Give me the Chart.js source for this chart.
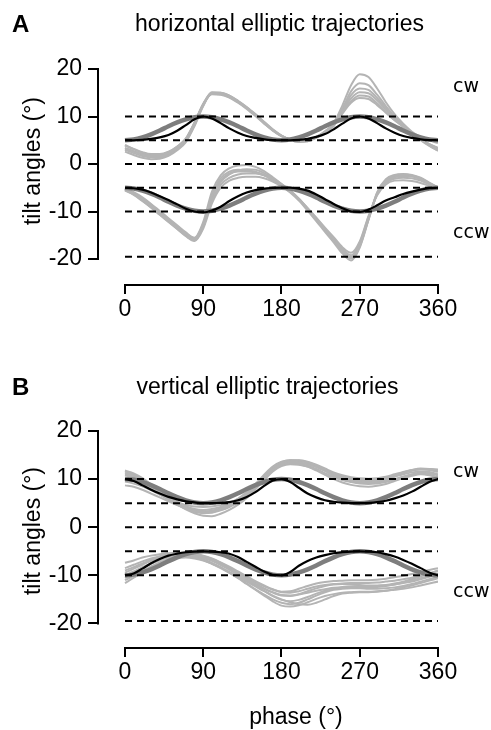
<!DOCTYPE html>
<html><head><meta charset="utf-8">
<script src="https://cdn.jsdelivr.net/npm/chart.js@4.4.1/dist/chart.umd.min.js"></script>
<style>
html,body{margin:0;padding:0;background:#fff;}
#wrap{position:relative;width:491px;height:730px;overflow:hidden;font-family:"Liberation Sans",Arial,sans-serif;color:#000;background:#fff;}
canvas{position:absolute;left:0;top:0;}
.t{position:absolute;white-space:nowrap;line-height:1;}
.lab{font-family:"DejaVu Sans",sans-serif;font-size:19px;left:453px;}
.yt{font-size:23px;transform:translate(-50%,-50%) rotate(-90deg);}
</style></head><body>
<div id="wrap">
<canvas id="cA" width="491" height="730"></canvas>
<canvas id="cB" width="491" height="730"></canvas>
<div class="t" style="left:12px;top:11.7px;font-size:24px;font-weight:bold;">A</div>
<div class="t" style="left:279.5px;top:12.2px;font-size:23px;transform:translateX(-50%);">horizontal elliptic trajectories</div>
<div class="t lab" style="top:76px;">cw</div>
<div class="t lab" style="top:222px;">ccw</div>
<div class="t yt" style="left:32px;top:160.5px;">tilt angles (°)</div>
<div class="t" style="left:12px;top:374.7px;font-size:24px;font-weight:bold;">B</div>
<div class="t" style="left:267.5px;top:374.8px;font-size:23px;transform:translateX(-50%);">vertical elliptic trajectories</div>
<div class="t lab" style="top:461px;">cw</div>
<div class="t lab" style="top:581px;">ccw</div>
<div class="t yt" style="left:32px;top:531px;">tilt angles (°)</div>
<div class="t" style="left:296px;top:704.5px;font-size:23px;transform:translateX(-50%);">phase (°)</div>
</div>
<script>
// ---- data ----
const phase = [0,10,20,30,40,50,60,70,80,90,100,110,120,130,140,150,160,170,180,190,200,210,220,230,240,250,260,270,280,290,300,310,320,330,340,350,360];
const xTicks = [0,90,180,270,360];
const yTicks = [-20,-10,0,10,20];
const refLevels = [10,5,0,-5,-10,-19.5];

// Panel A (horizontal elliptic)
const aCwBlack = [5.0,5.0,5.1,5.3,5.6,6.1,7.0,8.2,9.4,10.0,9.6,8.6,7.5,6.6,5.9,5.5,5.2,5.05,5.0,5.0,5.1,5.3,5.7,6.3,7.3,8.5,9.6,10.0,9.6,8.6,7.5,6.6,5.9,5.5,5.2,5.05,5.0];
const aCwDark = [5,5.15,5.6,6.25,7.05,7.95,8.75,9.4,9.85,10,9.85,9.4,8.75,7.95,7.05,6.25,5.6,5.15,5,5.15,5.6,6.25,7.05,7.95,8.75,9.4,9.85,10,9.85,9.4,8.75,7.95,7.05,6.25,5.6,5.15,5];
const aCcwBlack = [-5.0,-5.1,-5.4,-6.0,-6.8,-7.6,-8.5,-9.4,-10.0,-10.2,-9.8,-9.0,-7.8,-6.8,-6.0,-5.5,-5.2,-5.05,-5.0,-5.0,-5.2,-5.6,-6.4,-7.4,-8.4,-9.3,-10.0,-10.1,-9.6,-8.7,-7.7,-7.0,-6.3,-5.8,-5.4,-5.1,-5.0];
const aCcwDark = [-5,-5.15,-5.6,-6.25,-7.05,-7.95,-8.75,-9.4,-9.85,-10,-9.85,-9.4,-8.75,-7.95,-7.05,-6.25,-5.6,-5.15,-5,-5.15,-5.6,-6.25,-7.05,-7.95,-8.75,-9.4,-9.85,-10,-9.85,-9.4,-8.75,-7.95,-7.05,-6.25,-5.6,-5.15,-5];
const aCwTrial1 = [3.3,2.6,2.0,1.7,1.7,2.2,3.4,5.1,8.5,12.5,14.8,14.7,14.1,13.0,11.7,10.2,8.6,7.1,5.9,5.1,4.8,4.9,5.6,6.7,8.2,10.8,13.2,14.4,14.2,12.8,11.0,9.3,7.8,6.4,5.2,4.2,3.4];
const aCwTrial2 = [3.0,2.3,1.7,1.4,1.4,1.9,3.1,4.8,8.2,12.3,14.9,14.9,14.3,13.2,11.9,10.4,8.8,7.2,6.0,5.2,4.9,5.0,5.7,6.8,8.3,11.0,13.8,15.1,14.9,13.4,11.5,9.6,8.0,6.5,5.1,4.0,3.1];
const aCwTrial3 = [2.6,1.9,1.3,1.0,1.1,1.7,2.9,4.6,8.0,12.2,15.0,15.0,14.4,13.3,12.0,10.5,8.9,7.3,6.0,5.1,4.7,4.8,5.5,6.6,8.0,11.2,14.5,15.9,15.6,13.9,11.8,9.8,8.1,6.5,5.0,3.8,2.8];
const aCwTrial4 = [4.0,3.2,2.5,2.1,2.1,2.6,3.7,5.4,8.8,12.7,14.9,14.8,14.2,13.1,11.8,10.3,8.7,7.1,5.9,5.0,4.7,4.8,5.6,6.8,8.4,11.6,15.3,17.0,16.6,14.6,12.2,10.0,8.2,6.6,5.3,4.2,3.3];
const aCwTrial5 = [3.4,2.7,2.1,1.8,1.8,2.3,3.5,5.2,8.6,12.6,15.1,15.0,14.4,13.2,11.9,10.3,8.7,7.1,5.9,5.1,4.8,4.9,5.7,6.9,8.6,12.3,16.6,18.9,18.3,15.9,13.0,10.5,8.5,6.8,5.2,3.9,2.8];
const aCwTrial6 = [3.9,3.1,2.4,2.0,2.0,2.5,3.6,5.3,8.7,12.6,14.7,14.6,14.0,12.9,11.6,10.1,8.5,7.0,5.8,5.0,4.7,4.9,5.6,6.7,8.1,10.6,12.9,13.9,13.7,12.4,10.8,9.2,7.9,6.7,5.7,5.0,4.4];
const aCcwTrial1 = [-5.4,-6.2,-7.4,-8.8,-10.3,-11.8,-13.3,-14.8,-15.8,-12.8,-6.8,-3.8,-2.2,-1.4,-1.1,-1.2,-1.9,-3.0,-4.2,-5.6,-7.3,-9.4,-11.6,-13.8,-15.9,-18.1,-19.6,-17.0,-11.5,-6.3,-3.8,-2.8,-2.5,-2.6,-3.2,-4.1,-5.0];
const aCcwTrial2 = [-5.2,-5.9,-7.0,-8.4,-9.9,-11.4,-12.9,-14.4,-15.5,-12.2,-5.8,-2.4,-0.9,-0.3,-0.2,-0.6,-1.5,-2.8,-4.2,-5.7,-7.5,-9.6,-11.8,-14.0,-16.1,-18.3,-19.9,-17.3,-11.6,-6.1,-3.4,-2.4,-2.2,-2.4,-3.0,-4.0,-5.0];
const aCcwTrial3 = [-5.5,-6.4,-7.7,-9.1,-10.6,-12.1,-13.6,-15.1,-16.1,-13.2,-7.9,-4.4,-2.9,-2.2,-2.0,-2.0,-2.4,-3.3,-4.4,-5.7,-7.3,-9.3,-11.4,-13.6,-15.7,-17.9,-19.2,-16.6,-11.2,-6.4,-4.0,-3.1,-2.9,-3.0,-3.5,-4.3,-5.1];
const aCcwTrial4 = [-5.6,-6.5,-7.8,-9.2,-10.7,-12.2,-13.7,-15.2,-16.2,-13.6,-8.3,-5.0,-3.5,-2.9,-2.7,-2.7,-3.0,-3.7,-4.7,-5.9,-7.4,-9.3,-11.3,-13.4,-15.4,-17.5,-18.7,-16.3,-11.0,-6.6,-4.3,-3.5,-3.4,-3.6,-4.0,-4.6,-5.2];
const aCcwTrial5 = [-5.3,-6.1,-7.3,-8.6,-10.1,-11.6,-13.1,-14.6,-15.6,-12.6,-6.6,-3.0,-1.6,-1.2,-1.3,-1.6,-2.3,-3.4,-4.6,-6.0,-7.7,-9.8,-12.0,-14.3,-16.5,-18.8,-20.3,-17.6,-11.8,-6.0,-3.2,-2.3,-2.1,-2.3,-2.9,-3.9,-4.9];
const aCcwTrial6 = [-5.4,-6.3,-7.5,-8.9,-10.4,-11.9,-13.4,-14.9,-15.9,-13.0,-7.2,-3.5,-2.0,-1.6,-1.6,-1.8,-2.4,-3.4,-4.5,-5.8,-7.5,-9.5,-11.7,-13.9,-16.0,-18.3,-19.8,-17.2,-11.7,-6.3,-3.6,-2.6,-2.4,-2.6,-3.2,-4.1,-5.0];

// Panel B (vertical elliptic)
const bCwBlack = [10.0,9.6,8.7,7.8,7.0,6.3,5.8,5.4,5.15,5.0,5.0,5.05,5.2,5.6,6.3,7.3,8.6,9.7,10.0,9.4,8.2,7.0,6.2,5.6,5.3,5.1,5.0,5.0,5.05,5.2,5.5,6.0,6.6,7.4,8.4,9.4,10.0];
const bCwDark = [10,9.85,9.4,8.75,7.95,7.05,6.25,5.6,5.15,5,5.15,5.6,6.25,7.05,7.95,8.75,9.4,9.85,10,9.85,9.4,8.75,7.95,7.05,6.25,5.6,5.15,5,5.15,5.6,6.25,7.05,7.95,8.75,9.4,9.85,10];
const bCcwBlack = [-10.0,-9.6,-8.6,-7.5,-6.6,-5.9,-5.5,-5.2,-5.05,-5.0,-5.05,-5.2,-5.5,-6.2,-7.2,-8.2,-9.2,-9.9,-10.0,-9.3,-8.0,-7.0,-6.3,-5.8,-5.4,-5.2,-5.05,-5.0,-5.05,-5.2,-5.6,-6.1,-6.8,-7.6,-8.5,-9.4,-10.0];
const bCcwDark = [-10,-9.85,-9.4,-8.75,-7.95,-7.05,-6.25,-5.6,-5.15,-5,-5.15,-5.6,-6.25,-7.05,-7.95,-8.75,-9.4,-9.85,-10,-9.85,-9.4,-8.75,-7.95,-7.05,-6.25,-5.6,-5.15,-5,-5.15,-5.6,-6.25,-7.05,-7.95,-8.75,-9.4,-9.85,-10];
const bCwTrial1 = [10.8,10.3,9.4,8.3,7.1,5.9,4.8,3.9,3.3,3.1,3.3,3.8,4.4,5.3,6.5,8.2,10.2,12.0,13.0,13.4,13.4,13.1,12.5,11.7,10.9,10.3,9.9,9.7,9.6,9.7,10.0,10.5,11.0,11.4,11.6,11.5,11.0];
const bCwTrial2 = [11.8,11.2,10.2,8.9,7.5,6.1,4.8,3.7,2.9,2.4,2.3,2.8,3.6,4.7,6.1,7.9,9.9,11.8,13.1,13.7,13.8,13.5,12.8,11.9,11.0,10.2,9.6,9.3,9.2,9.4,9.9,10.6,11.3,11.8,12.1,12.1,11.8];
const bCwTrial3 = [9.5,9.1,8.5,7.7,6.8,6.0,5.2,4.6,4.3,4.2,4.3,4.6,5.1,5.9,7.0,8.6,10.4,12.1,13.0,13.3,13.2,12.8,12.1,11.2,10.4,9.8,9.4,9.1,9.0,9.1,9.4,9.9,10.5,11.0,11.3,11.2,10.8];
const bCwTrial4 = [11.3,10.8,9.9,8.7,7.4,6.1,4.9,3.9,3.2,2.9,3.0,3.5,4.2,5.2,6.5,8.3,10.4,12.3,13.4,13.8,13.8,13.4,12.8,12.0,11.2,10.6,10.2,10.0,9.9,10.0,10.3,10.8,11.4,11.9,12.2,12.1,11.7];
const bCwTrial5 = [10.2,9.7,8.9,7.9,6.8,5.7,4.7,3.9,3.4,3.2,3.4,3.9,4.6,5.6,6.9,8.6,10.5,12.2,13.1,13.3,13.1,12.6,11.8,10.9,10.0,9.3,8.8,8.5,8.4,8.6,9.0,9.6,10.2,10.7,11.0,10.8,10.3];
const bCwTrial6 = [11.0,10.6,9.8,8.7,7.5,6.3,5.2,4.3,3.6,3.3,3.4,3.9,4.7,5.7,7.0,8.7,10.6,12.4,13.5,13.9,13.9,13.6,13.0,12.2,11.4,10.8,10.4,10.2,10.1,10.2,10.5,11.0,11.5,11.9,12.1,12.1,12.0];
const bCwTrial7 = [8.7,8.4,7.8,7.0,6.2,5.4,4.6,3.9,3.4,3.1,3.2,3.6,4.3,5.2,6.4,8.0,9.8,11.6,12.7,13.1,13.0,12.6,12.0,11.2,10.5,9.9,9.5,9.3,9.2,9.3,9.6,10.0,10.5,10.9,11.1,10.9,10.4];
const bCwTrial8 = [11.6,11.0,10.0,8.8,7.6,6.4,5.3,4.4,3.8,3.6,3.8,4.2,4.9,5.9,7.3,9.0,10.9,12.6,13.6,13.9,13.8,13.4,12.6,11.7,10.8,10.1,9.7,9.5,9.5,9.7,10.1,10.7,11.3,11.8,12.0,11.9,11.5];
const bCcwTrial1 = [-9.5,-8.6,-7.8,-7.0,-6.4,-6.0,-5.8,-5.8,-6.0,-6.4,-7.0,-7.8,-8.7,-9.7,-10.8,-11.8,-12.8,-13.6,-14.2,-14.3,-14.0,-13.6,-13.2,-12.9,-12.6,-12.4,-12.3,-12.2,-12.2,-12.2,-12.1,-11.9,-11.6,-11.3,-10.8,-10.3,-9.8];
const bCcwTrial2 = [-7.4,-6.9,-6.3,-5.9,-5.6,-5.4,-5.3,-5.3,-5.5,-5.9,-6.5,-7.3,-8.2,-9.2,-10.2,-11.2,-12.1,-12.9,-13.4,-13.3,-12.8,-12.2,-11.7,-11.4,-11.2,-11.1,-11.0,-11.0,-11.0,-10.9,-10.7,-10.4,-10.1,-9.7,-9.3,-8.9,-8.5];
const bCcwTrial3 = [-11.6,-10.5,-9.3,-8.2,-7.3,-6.6,-6.2,-6.1,-6.3,-6.8,-7.6,-8.5,-9.5,-10.6,-11.8,-13.0,-14.2,-15.4,-16.3,-16.5,-16.2,-15.6,-14.9,-14.3,-13.9,-13.6,-13.5,-13.4,-13.4,-13.3,-13.2,-13.0,-12.8,-12.5,-12.1,-11.7,-11.3];
const bCcwTrial4 = [-10.5,-9.5,-8.5,-7.6,-6.8,-6.2,-5.8,-5.7,-5.8,-6.2,-6.9,-7.8,-8.8,-9.9,-11.0,-12.1,-13.2,-14.3,-15.1,-15.4,-15.1,-14.5,-13.8,-13.2,-12.8,-12.6,-12.5,-12.5,-12.5,-12.4,-12.2,-11.9,-11.5,-11.1,-10.6,-10.1,-9.6];
const bCcwTrial5 = [-8.5,-7.8,-7.1,-6.5,-6.0,-5.6,-5.4,-5.4,-5.6,-6.0,-6.6,-7.4,-8.4,-9.4,-10.4,-11.4,-12.3,-13.0,-13.5,-13.6,-13.3,-12.8,-12.3,-12.0,-11.8,-11.7,-11.6,-11.6,-11.6,-11.5,-11.3,-11.1,-10.8,-10.5,-10.1,-9.6,-9.1];
const bCcwTrial6 = [-10.0,-9.2,-8.3,-7.5,-6.8,-6.3,-6.0,-6.0,-6.2,-6.7,-7.4,-8.3,-9.4,-10.5,-11.7,-12.9,-14.0,-15.0,-15.7,-16.0,-15.7,-15.0,-14.2,-13.5,-13.0,-12.8,-12.7,-12.7,-12.8,-12.8,-12.7,-12.5,-12.2,-11.8,-11.3,-10.8,-10.3];
const bCcwTrial7 = [-9.0,-8.3,-7.5,-6.8,-6.2,-5.8,-5.6,-5.6,-5.8,-6.2,-6.8,-7.6,-8.6,-9.6,-10.7,-11.7,-12.7,-13.5,-14.1,-14.2,-13.9,-13.3,-12.7,-12.2,-11.9,-11.8,-11.9,-12.0,-12.1,-12.1,-12.0,-11.7,-11.3,-10.8,-10.2,-9.6,-9.0];
const bCcwTrial8 = [-11.0,-10.1,-9.1,-8.2,-7.4,-6.8,-6.4,-6.3,-6.5,-6.9,-7.6,-8.4,-9.3,-10.3,-11.3,-12.3,-13.3,-14.2,-15.0,-15.6,-16.0,-16.1,-15.7,-15.0,-14.3,-13.8,-13.6,-13.5,-13.5,-13.4,-13.2,-12.9,-12.5,-12.1,-11.6,-11.1,-10.6];

// ---- styling / building ----
const LIGHT = '#b4b4b4', DARK = '#7e7e7e', BLACK = '#000000';
const FONT = "'Liberation Sans', Arial, sans-serif";

function series(vals, color, width, order) {
  return { data: vals.map((v, i) => ({ x: phase[i], y: v })), borderColor: color, borderWidth: width,
    pointRadius: 0, fill: false, cubicInterpolationMode: 'monotone', order: order };
}
function refLine(level) {
  return { data: [{ x: xTicks[0], y: level }, { x: xTicks[xTicks.length - 1], y: level }],
    borderColor: BLACK, borderWidth: 2, borderDash: [7, 5], pointRadius: 0, fill: false, order: 2 };
}

const axisLines = {
  id: 'axisLines',
  afterDraw(chart) {
    const { ctx, chartArea, scales: { x, y } } = chart;
    ctx.save();
    ctx.strokeStyle = '#000'; ctx.lineWidth = 2; ctx.lineCap = 'square';
    ctx.beginPath();
    ctx.moveTo(chartArea.left, y.getPixelForValue(yTicks[yTicks.length - 1]));
    ctx.lineTo(chartArea.left, y.getPixelForValue(yTicks[0]));
    ctx.moveTo(x.getPixelForValue(xTicks[0]), chartArea.bottom);
    ctx.lineTo(x.getPixelForValue(xTicks[xTicks.length - 1]), chartArea.bottom);
    ctx.stroke();
    ctx.restore();
  }
};

function makeChart(id, light, darks, blacks, top, bottom, yMin) {
  const datasets = [];
  blacks.forEach(v => datasets.push(series(v, BLACK, 2.2, 1)));
  refLevels.forEach(l => datasets.push(refLine(l)));
  darks.forEach(v => datasets.push(series(v, DARK, 4.5, 3)));
  light.forEach(v => datasets.push(series(v, LIGHT, 2, 4)));
  return new Chart(document.getElementById(id), {
    type: 'line',
    data: { datasets },
    plugins: [axisLines],
    options: {
      responsive: false, animation: false, devicePixelRatio: 1,
      events: [],
      layout: { padding: { left: 0, right: 491 - 438, top: top, bottom: 730 - bottom - 40 } },
      plugins: { legend: { display: false }, tooltip: { enabled: false }, title: { display: false } },
      scales: {
        x: {
          type: 'linear', min: -31.05, max: 360,
          afterBuildTicks: s => { s.ticks = xTicks.map(v => ({ value: v })); },
          afterFit: s => { s.height = 40; },
          border: { display: false },
          grid: { display: true, drawOnChartArea: false, drawTicks: true, tickLength: 9, color: '#000', lineWidth: 2 },
          ticks: { color: '#000', padding: 2, autoSkip: false, maxRotation: 0, font: { family: FONT, size: 23 } }
        },
        y: {
          type: 'linear', min: yMin, max: 20,
          afterBuildTicks: s => { s.ticks = yTicks.map(v => ({ value: v })); },
          afterFit: s => { s.width = 98; },
          border: { display: false },
          grid: { display: true, drawOnChartArea: false, drawTicks: true, tickLength: 10, color: '#000', lineWidth: 2 },
          ticks: { color: '#000', padding: 6, font: { family: FONT, size: 23 } }
        }
      }
    }
  });
}

makeChart('cA',
  [aCwTrial1, aCwTrial2, aCwTrial3, aCwTrial4, aCwTrial5, aCwTrial6, aCcwTrial1, aCcwTrial2, aCcwTrial3, aCcwTrial4, aCcwTrial5, aCcwTrial6],
  [aCwDark, aCcwDark], [aCwBlack, aCcwBlack], 69, 285, -25.47);
makeChart('cB',
  [bCwTrial1, bCwTrial2, bCwTrial3, bCwTrial4, bCwTrial5, bCwTrial6, bCwTrial7, bCwTrial8, bCcwTrial1, bCcwTrial2, bCcwTrial3, bCcwTrial4, bCcwTrial5, bCcwTrial6, bCcwTrial7, bCcwTrial8],
  [bCwDark, bCcwDark], [bCwBlack, bCcwBlack], 431, 648, -25.1);
</script>
</body></html>
